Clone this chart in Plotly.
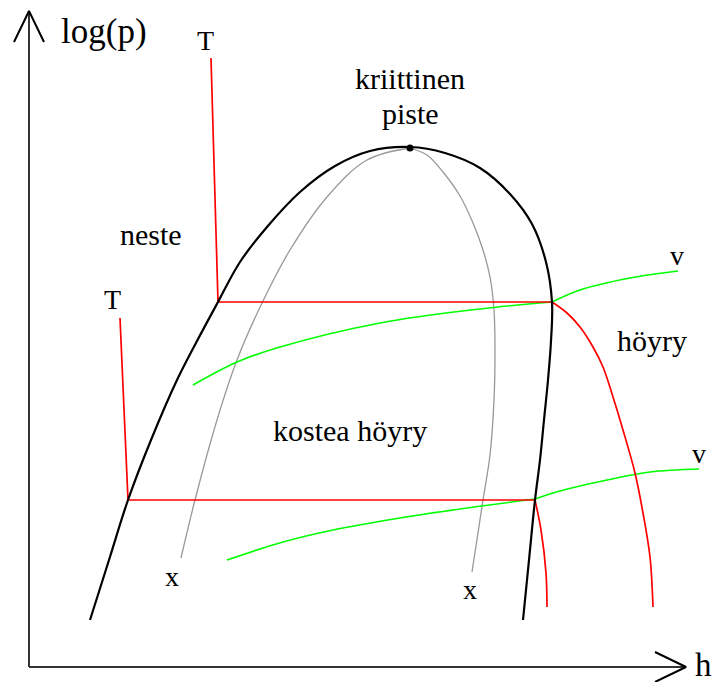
import plotly.graph_objects as go

# Schematic log(p)-h diagram, drawn in drawing units (h to the right, log p on a reversed axis)
FONT = "Liberation Serif"

# Saturation dome (liquid side up to the critical point, then vapour side)
dome_h = [90, 109, 128, 151, 177, 197, 218, 240, 267, 300, 335, 370, 410,
          445, 480, 510, 532, 546, 552, 551, 548, 544, 540, 535, 529, 523]
dome_p = [620, 560, 500, 440, 380, 341, 302, 262, 227, 192, 166, 151, 147,
          153, 168, 194, 224, 262, 302, 341, 380, 420, 460, 500, 560, 620]

# Constant-quality lines (x)
xl_h = [181, 195, 217, 237, 262, 290, 327, 367, 410]
xl_p = [558, 500, 420, 360, 303, 250, 197, 160, 148]
xr_h = [410, 427, 443, 460, 473, 483, 490, 494, 495, 494, 490, 483, 472]
xr_p = [148, 155, 172, 196, 223, 250, 277, 310, 350, 400, 455, 500, 572]

# Isotherms (T): liquid branch, two-phase plateau, superheated branch
t1_h = [211, 218, 552]
t1_p = [58, 302, 302]
t1v_h = [552, 567, 580, 593, 603, 613, 623, 635, 643, 650, 653]
t1v_p = [302, 313, 327, 347, 367, 397, 430, 473, 513, 557, 607]
t2_h = [120, 128, 535]
t2_p = [318, 500, 500]
t2v_h = [535, 541, 546, 547]
t2v_p = [500, 530, 573, 607]

# Isochores (v): wet region part and superheated part
v1w_h = [193, 237, 280, 380, 480, 552]
v1w_p = [385, 362, 347, 323, 309, 302]
v1s_h = [552, 580, 630, 678]
v1s_p = [302, 290, 278, 271]
v2w_h = [227, 283, 333, 400, 467, 535]
v2w_p = [560, 542, 530, 518, 508, 499]
v2s_h = [535, 560, 607, 650, 699]
v2s_p = [499, 491, 480, 472, 469]

# Axes with arrow heads
yax_h = [29, 29]
yax_p = [667, 11]
yarrow_h = [14, 29, 44]
yarrow_p = [42, 11, 42]
xax_h = [29, 686]
xax_p = [667, 667]
xarrow_h = [655, 686, 655]
xarrow_p = [652, 667, 682]

crit_h = [410]
crit_p = [148]

# text, position, font size, horizontal anchor
labels = [
    ("log(p)", 104, 31, 35, "center"),
    ("T", 205, 40, 28, "center"),
    ("kriittinen", 410, 78, 30, "center"),
    ("piste", 410, 113, 30, "center"),
    ("neste", 151, 234, 30, "center"),
    ("T", 112, 299, 28, "center"),
    ("v", 677, 255, 28, "center"),
    ("höyry", 652, 340, 30, "center"),
    ("kostea höyry", 350, 430, 30, "center"),
    ("v", 699, 453, 28, "center"),
    ("x", 172, 576, 28, "center"),
    ("x", 470, 589, 28, "center"),
    ("h", 694, 665, 33, "left"),
]

fig = go.Figure()


def add_line(h, p, color, width, shape="linear"):
    fig.add_trace(go.Scatter(x=h, y=p, mode="lines",
                             line=dict(color=color, width=width, shape=shape,
                                       smoothing=1, simplify=False),
                             hoverinfo="skip", showlegend=False))


add_line(yax_h, yax_p, "#333333", 2)
add_line(yarrow_h, yarrow_p, "#000000", 2)
add_line(xax_h, xax_p, "#333333", 2)
add_line(xarrow_h, xarrow_p, "#000000", 2)

add_line(xl_h, xl_p, "#999999", 1.3, "spline")
add_line(xr_h, xr_p, "#999999", 1.3, "spline")
add_line(v1w_h, v1w_p, "#00ff00", 1.6, "spline")
add_line(v1s_h, v1s_p, "#00ff00", 1.6, "spline")
add_line(v2w_h, v2w_p, "#00ff00", 1.6, "spline")
add_line(v2s_h, v2s_p, "#00ff00", 1.6, "spline")
add_line(t1_h, t1_p, "#ff0000", 1.7)
add_line(t1v_h, t1v_p, "#ff0000", 1.7, "spline")
add_line(t2_h, t2_p, "#ff0000", 1.7)
add_line(t2v_h, t2v_p, "#ff0000", 1.7, "spline")
add_line(dome_h, dome_p, "#000000", 2.2, "spline")

fig.add_trace(go.Scatter(x=crit_h, y=crit_p, mode="markers",
                         marker=dict(color="black", size=7),
                         hoverinfo="skip", showlegend=False))

for text, h, p, size, anchor in labels:
    fig.add_annotation(x=h, y=p, text=text, showarrow=False,
                       xanchor=anchor, yanchor="middle", borderpad=0,
                       font=dict(family=FONT, size=size, color="black"))

fig.update_layout(
    width=717, height=682,
    margin=dict(l=0, r=0, t=0, b=0),
    paper_bgcolor="white", plot_bgcolor="white",
    xaxis=dict(range=[0, 717], visible=False, fixedrange=True),
    yaxis=dict(range=[682, 0], visible=False, fixedrange=True),
)

fig.write_html("out.html")
